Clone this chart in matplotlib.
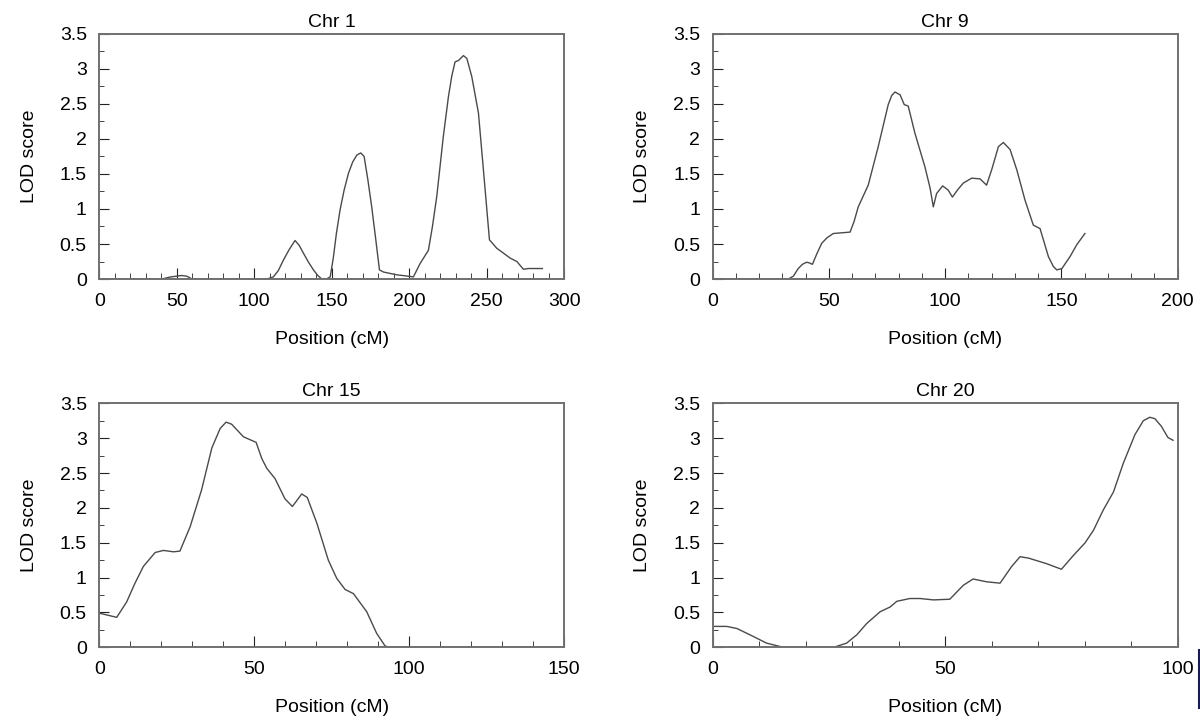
import matplotlib.pyplot as plt
from matplotlib.ticker import MultipleLocator
from matplotlib.lines import Line2D

plt.rcParams['font.family'] = ['Liberation Sans', 'DejaVu Sans']

# Chr 1
chr1_pos = [0, 40.3, 46, 53.2, 56.5, 59.8, 108, 112.3, 115.5, 118.8, 122.5, 126.3, 129, 131.7, 135,
            138.2, 141, 143.6, 146.5, 149, 151, 153, 155.4, 158, 160.8, 163.5, 166.2, 168.7,
            170.9, 173.3, 175.8, 178.5, 180.8, 183.4, 192, 199.5, 202.7, 207, 212.4, 215,
            217.8, 222, 225.3, 227.5, 229.6, 231.8, 235, 237.2, 240.4, 244.7, 247.9, 251.8,
            256.5, 265.1, 269.5, 273.7, 277, 286]
chr1_lod = [0, 0, 0.03, 0.05, 0.04, 0, 0, 0.03, 0.12, 0.27, 0.42, 0.55, 0.48, 0.37, 0.24,
            0.13, 0.05, 0, 0, 0.03, 0.3, 0.65, 0.99, 1.27, 1.51, 1.67, 1.77, 1.80,
            1.75, 1.42, 1.03, 0.55, 0.13, 0.10, 0.06, 0.04, 0.03, 0.22, 0.41, 0.75,
            1.18, 2.03, 2.60, 2.90, 3.10, 3.12, 3.19, 3.15, 2.89, 2.37, 1.56, 0.56,
            0.44, 0.30, 0.25, 0.14, 0.15, 0.15]

# Chr 9
chr9_pos = [0, 32.5, 34.7, 36.8, 38.6, 40.4, 41.6, 42.9, 44.8, 46.9, 49.2, 51.9, 55.5, 59.1, 60.8,
            62.6, 66.9, 71.2, 75.5, 77, 78.4, 80.6, 82.4, 84.1, 87, 91.3, 93.5, 94.9, 96.3,
            98.9, 101.3, 103.1, 105.5, 107.8, 111.4, 115, 117.8, 120, 122.9, 125, 127.9,
            130.8, 134.3, 137.9, 140.8, 144.4, 146.5, 148, 150.2, 153.7, 156.6, 160.1]
chr9_lod = [0, 0, 0.04, 0.15, 0.21, 0.24, 0.23, 0.21, 0.36, 0.51, 0.59, 0.65, 0.66, 0.67, 0.82,
            1.03, 1.34, 1.89, 2.49, 2.62, 2.67, 2.63, 2.49, 2.47, 2.08, 1.60, 1.30, 1.03, 1.22,
            1.33, 1.27, 1.17, 1.28, 1.37, 1.44, 1.43, 1.34, 1.56, 1.89, 1.95, 1.85,
            1.56, 1.13, 0.77, 0.72, 0.32, 0.18, 0.13, 0.15, 0.32, 0.49, 0.65]

# Chr 15
chr15_pos = [0, 5.6, 8.8, 11.5, 14.2, 18, 20.7, 23.9, 26, 29.3, 33, 36.3, 39, 40.9, 42.7, 46.5,
             50.6, 52.4, 54, 56.7, 59.9, 62.3, 65.3, 67.1, 70.2, 73.9, 76.6, 79.3, 82, 86.3,
             89.5, 92.2, 93.4, 112.7]
chr15_lod = [0.49, 0.43, 0.65, 0.92, 1.16, 1.36, 1.39, 1.37, 1.38, 1.73, 2.26, 2.86, 3.14, 3.23, 3.20, 3.02,
             2.94, 2.71, 2.57, 2.42, 2.13, 2.02, 2.20, 2.15, 1.78, 1.25, 0.99, 0.83, 0.77, 0.51,
             0.20, 0.02, 0, 0]

# Chr 20
chr20_pos = [0, 3, 5.2, 8, 11.6, 15.2, 26, 28.8, 31, 33.1, 36, 38.2, 39.6, 42.4, 44.6, 47.5, 51,
             53.9, 56, 58.9, 61.8, 64.3, 66.1, 67.9, 71.8, 75, 77.6, 80.1, 81.9, 84, 86.2, 88.3,
             90.8, 92.6, 94, 95.1, 96.5, 97.9, 99]
chr20_lod = [0.30, 0.30, 0.27, 0.18, 0.06, 0, 0, 0.06, 0.18, 0.34, 0.51, 0.58, 0.66, 0.70, 0.70, 0.68, 0.69,
             0.89, 0.98, 0.94, 0.92, 1.16, 1.30, 1.28, 1.20, 1.12, 1.32, 1.50, 1.68, 1.97, 2.23, 2.64,
             3.05, 3.25, 3.30, 3.28, 3.17, 3.01, 2.97]

panels = [
    ('Chr 1', chr1_pos, chr1_lod, 300, [0.0828, 0.613, 0.3873, 0.340]),
    ('Chr 9', chr9_pos, chr9_lod, 200, [0.5939, 0.613, 0.3875, 0.340]),
    ('Chr 15', chr15_pos, chr15_lod, 150, [0.0828, 0.1022, 0.3873, 0.3384]),
    ('Chr 20', chr20_pos, chr20_lod, 100, [0.5939, 0.1022, 0.3875, 0.3384]),
]

fig = plt.figure(figsize=(12, 7.21), dpi=100)

for title, pos, lod, xmax, rect in panels:
    ax = fig.add_axes(rect)
    ax.plot(pos, lod, color='#4a4a4a', lw=1.0)
    ax.set_xlim(0, xmax)
    ax.set_ylim(0, 3.5)
    ax.xaxis.set_major_locator(MultipleLocator(50))
    ax.xaxis.set_minor_locator(MultipleLocator(10))
    ax.yaxis.set_minor_locator(MultipleLocator(0.25))
    ax.set_yticks([0, 0.5, 1, 1.5, 2, 2.5, 3, 3.5])
    ax.set_yticklabels(['0', '0.5', '1', '1.5', '2', '2.5', '3', '3.5'])
    ax.tick_params(which='both', direction='in', labelsize=14, color='#222222')
    ax.tick_params(axis='x', which='major', length=8, pad=10)
    ax.tick_params(axis='x', which='minor', length=4.5)
    ax.tick_params(axis='y', which='major', length=7, pad=9)
    ax.tick_params(axis='y', which='minor', length=3.5)
    for s in ax.spines.values():
        s.set_color('#707070')
        s.set_linewidth(1.4)
    ax.set_title(title, fontsize=14, pad=5)
    ax.set_xlabel('Position (cM)', fontsize=14, labelpad=15)
    ax.set_ylabel('LOD score', fontsize=14, labelpad=16)

# stray vertical line at the lower right edge of the original image
fig.add_artist(Line2D([1199 / 1200, 1199 / 1200], [1 - 650 / 721, 1 - 708 / 721],
                      color='#1a1a55', lw=1.5, transform=fig.transFigure))

fig.savefig('out.png', dpi=100)
